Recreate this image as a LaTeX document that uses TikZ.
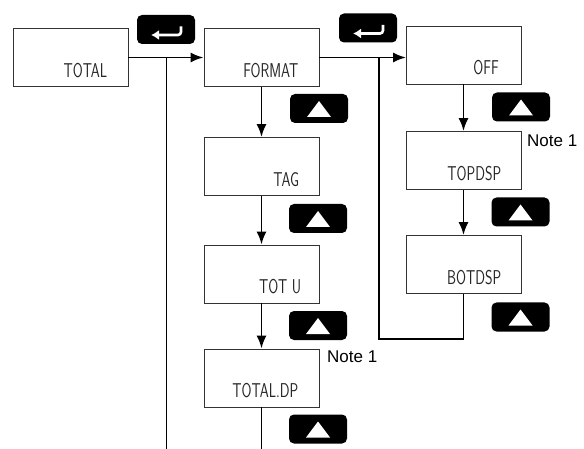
\documentclass[tikz,border=0pt]{standalone}
\usepackage{fontspec}
\newfontfamily\notefont{Liberation Sans}
\usetikzlibrary{arrows.meta,calc}
\tikzset{
 disp/.style={draw=black!80, line width=0.9pt, minimum width=115pt, minimum height=58pt, inner sep=0pt},
 btn/.style={fill=black, rounded corners=5pt, minimum width=58pt, minimum height=29pt, inner sep=0pt},
 upbtn/.style={btn, path picture={\fill[white, sharp corners] ($(path picture bounding box.center)+(0pt,7.5pt)$) -- ($(path picture bounding box.center)+(-12pt,-8.5pt)$) -- ($(path picture bounding box.center)+(12pt,-8.5pt)$) -- cycle;}},
 retbtn/.style={btn, path picture={\draw[white, line width=2.6pt, rounded corners=3pt, -{Latex[length=8pt,width=10pt]}] ($(path picture bounding box.center)+(15pt,3pt)$) -- ($(path picture bounding box.center)+(15pt,-5.5pt)$) -- ($(path picture bounding box.center)+(-15pt,-5.5pt)$);}},
 conn/.style={line width=1.9pt, black},
 tip/.style={-{Latex[length=13pt,width=10pt]}},
 lcd/.style={anchor=base east, inner sep=0pt, text=black!85, font=\fontsize{20}{20}\selectfont\sffamily},
 note/.style={anchor=west, inner sep=0pt, font=\notefont\fontsize{17}{17}\selectfont},
}
\newcommand\lcdtxt[1]{\scalebox{0.72}[1]{#1}}
\begin{document}
\begin{tikzpicture}[x=1pt,y=-1pt]
\useasboundingbox (0,0) rectangle (584,449);
% display boxes
\node[disp] (total) at (70.5,57.5) {};
\node[disp] (format) at (261.5,57.5) {};
\node[disp] (off) at (464,55) {};
\node[disp] (tag) at (261.5,166.5) {};
\node[disp] (totu) at (261.5,274) {};
\node[disp] (totaldp) at (261.5,378) {};
\node[disp] (topdsp) at (463.5,160.5) {};
\node[disp] (botdsp) at (463.5,264.5) {};
% display texts
\node[lcd] (totalt) at ($(total.south east)+(-21pt,9.5pt)$) {\lcdtxt{TOTAL}};
\node[lcd] (formatt) at ($(format.south east)+(-21pt,9.5pt)$) {\lcdtxt{FORMAT}};
\node[lcd] (offt) at ($(off.south east)+(-23pt,9.5pt)$) {\lcdtxt{OFF}};
\node[lcd] (tagt) at ($(tag.south east)+(-20pt,9.5pt)$) {\lcdtxt{TAG}};
\node[lcd] (totut) at ($(totu.south east)+(-18pt,9.5pt)$) {\lcdtxt{TOT U}};
\node[lcd] (totaldpt) at ($(totaldp.south east)+(-21pt,9.5pt)$) {\lcdtxt{TOTAL.DP}};
\node[lcd] (topdspt) at ($(topdsp.south east)+(-20pt,9.5pt)$) {\lcdtxt{TOPDSP}};
\node[lcd] (botdspt) at ($(botdsp.south east)+(-20pt,9.5pt)$) {\lcdtxt{BOTDSP}};
% buttons
\node[retbtn] (r1) at (166,29.5) {};
\node[retbtn] (r2) at (368,28) {};
\node[upbtn] (u1) at (319,108.5) {};
\node[upbtn] (u2) at (318,218.5) {};
\node[upbtn] (u3) at (318,325.5) {};
\node[upbtn] (u4) at (318,429) {};
\node[upbtn] (u5) at (521,107) {};
\node[upbtn] (u6) at (520.5,212) {};
\node[upbtn] (u7) at (520.5,317) {};
% notes
\node[note] (n1) at (527,141) {Note 1};
\node[note] (n2) at (327,357) {Note 1};
% free ends
\coordinate (j1) at (166.5,57.5);
\coordinate (e1) at (166.5,449);
\coordinate (j2) at (379,57.5);
\coordinate (c2) at (379,339);
\coordinate (e2) at (261.5,449);
% connectors
\draw[conn,tip] (total.east) -- (format.west);
\draw[conn] (j1) -- (e1);
\draw[conn,tip] (format.east) -- (format.east -| off.west);
\draw[conn] (j2) -- (c2) -| (botdsp.south);
\draw[conn,tip] (format.south) -- (tag.north);
\draw[conn,tip] (tag.south) -- (totu.north);
\draw[conn,tip] (totu.south) -- (totaldp.north);
\draw[conn] (totaldp.south) -- (e2);
\draw[conn,tip] (off.south -| topdsp.north) -- (topdsp.north);
\draw[conn,tip] (topdsp.south) -- (botdsp.north);
\end{tikzpicture}
\end{document}
